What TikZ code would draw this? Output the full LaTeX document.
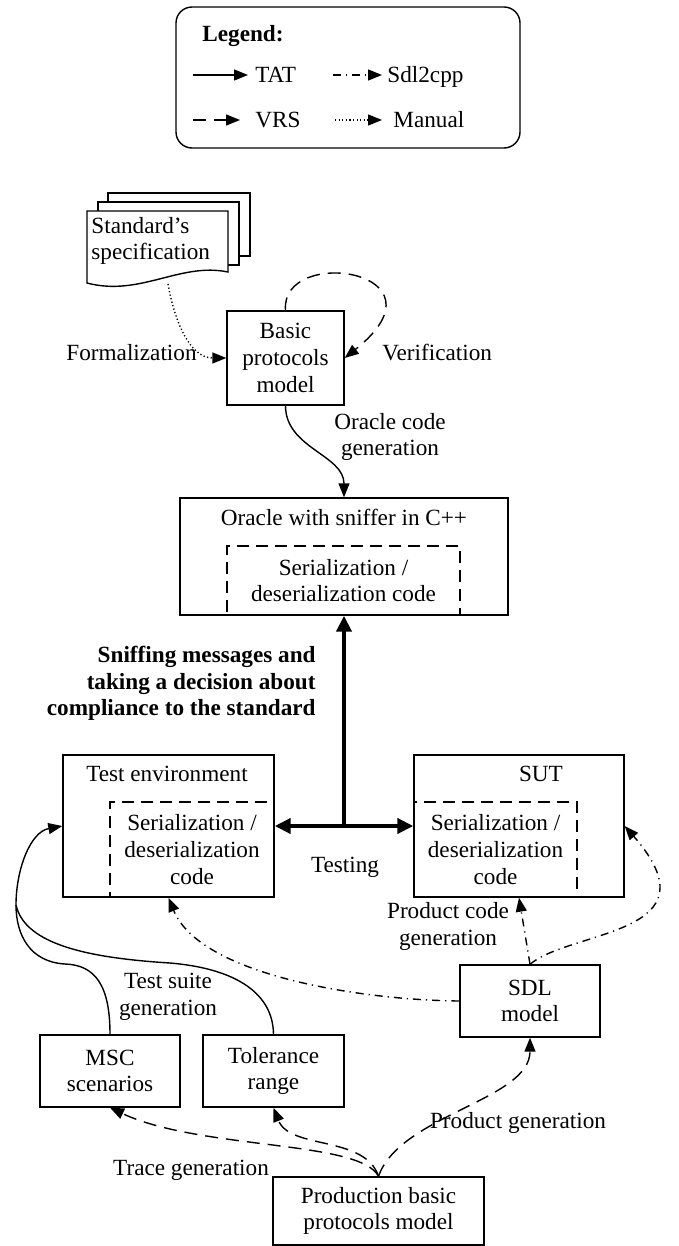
\documentclass[tikz,border=0pt]{standalone}
\usepackage{fontspec}
\setmainfont{Liberation Serif}
\usetikzlibrary{arrows.meta}
\tikzset{
  box/.style={draw, line width=0.7pt, align=center, inner sep=0pt},
  codebox/.style={draw, line width=0.7pt, dash pattern=on 6pt off 3.5pt, align=center, inner sep=0pt},
  tat/.style={line width=0.7pt, -{Triangle[length=7pt,width=5.5pt]}},
  vrs/.style={tat, dash pattern=on 6.5pt off 4pt},
  sdlarrow/.style={tat, dash pattern=on 4pt off 2.5pt on 0.6pt off 2.5pt},
  manual/.style={tat, dash pattern=on 0.6pt off 1.2pt},
  boldarrow/.style={line width=2pt, -{Triangle[length=8pt,width=7.5pt]}}
}

\begin{document}
\fontsize{11.6}{13.35}\selectfont
\begin{tikzpicture}[x=0.5pt, y=-0.5pt]
		%%%%% START %%%%%
		\useasboundingbox (0,0) rectangle (679,1246);
		
		% legend
		\draw[line width=0.7pt, rounded corners=8pt] (176,7) rectangle (520,148);
		\node[anchor=base west, inner sep=0pt, font=\bfseries] (legend) at (202,42) {Legend:};
		\draw[tat] (193,75) -- (248,75);
		\node[anchor=base west, inner sep=0pt] (tat) at (255,83) {TAT};
		\draw[sdlarrow] (333,75) -- (382,75);
		\node[anchor=base west, inner sep=0pt] (sdl2cpp) at (387,83) {Sdl2cpp};
		\draw[vrs] (193,120) -- (240,120);
		\node[anchor=base west, inner sep=0pt] (vrs) at (255,127.5) {VRS};
		\draw[manual] (335,120) -- (382,120);
		\node[anchor=base west, inner sep=0pt] (manual) at (393,127.5) {Manual};
		
		% standard's specification
		\filldraw[fill=white, line width=0.7pt] (108,193) rectangle (250,256);
		\filldraw[fill=white, line width=0.7pt] (98,202) rectangle (239,265);
		\filldraw[fill=white, line width=0.7pt] (87,211) -- (228,211) -- (228,272) .. controls (180,262) and (140,297) .. (87,283) -- cycle;
		\node[anchor=west, align=left, inner sep=0pt] (spec) at (91,241) {Standard’s\\specification};
		\coordinate (specfoot) at (168,284);
		
		\node[box, minimum width=58.5pt, minimum height=47pt] (basic) at (285.5,358) {Basic\\protocols\\model};
		\node[anchor=east, inner sep=0pt] (formal) at (197,353) {Formalization};
		\node[anchor=west, inner sep=0pt] (verif) at (382,353) {Verification};
		\node[align=center, inner sep=0pt] (ocg) at (390,437) {Oracle code\\generation};
		
		% oracle
		\node[box, minimum width=164pt, minimum height=58.5pt] (oracle) at (344,556.5) {};
		\node (oracletitle) at (344,517) {Oracle with sniffer in C++};
		\node[codebox, minimum width=116.5pt, minimum height=34.5pt] (oraclecode) at (343.5,580.5) {Serialization /\\deserialization code};
		
		\node[anchor=east, align=right, inner sep=0pt, font=\bfseries] (sniff) at (316,683.5) {Sniffing messages and\\taking a decision about\\compliance to the standard};
		
		% test environment and SUT
		\node[box, minimum width=105.5pt, minimum height=71pt] (testenv) at (168.5,826) {};
		\node (testtitle) at (167,774) {Test environment};
		\node[codebox, minimum width=82pt, minimum height=47.5pt] (testcode) at (192,849.5) {Serialization /\\deserialization\\code};
		\node[box, minimum width=105pt, minimum height=71pt] (sut) at (519,826) {};
		\node (suttitle) at (541,774) {SUT};
		\node[codebox, minimum width=81.5pt, minimum height=47.5pt] (sutcode) at (495.5,849.5) {Serialization /\\deserialization\\code};
		\node (testing) at (345,867) {Testing};
		
		% models
		\node[box, minimum width=70pt, minimum height=36pt] (sdlm) at (530,1001) {SDL\\model};
		\node[box, minimum width=70pt, minimum height=36pt] (msc) at (110,1071) {MSC\\scenarios};
		\node[box, minimum width=70.5pt, minimum height=36pt] (tol) at (273.5,1071) {Tolerance\\range};
		\node[box, minimum width=105.5pt, minimum height=34pt] (prod) at (378.5,1211) {Production basic\\protocols model};
		\node[align=center] (pcg) at (448,926.5) {Product code\\generation};
		\node[align=center] (tsg) at (168,996.5) {Test suite\\generation};
		\node (tracegen) at (191,1170) {Trace generation};
		\node (prodgen) at (518,1123) {Product generation};
		
		% arrows
		\draw[manual] (specfoot) to[out=-80,in=180] (basic.west);
		\draw[vrs] (basic.north) .. controls (280,245) and (455,270) .. (basic.east);
		\draw[tat] (basic.south) to[out=-90,in=90] (oracle.north);
		
		\coordinate (hub) at (344,826);
		\draw[boldarrow] (hub) -- (oracle.south);
		\draw[boldarrow] (hub) -- (testenv.east);
		\draw[boldarrow] (hub) -- (sut.west);
		
		\draw[sdlarrow] (sdlm.north) -- (sut.south);
		\draw[sdlarrow] (sdlm.north) .. controls (570,930) and (720,935) .. (sut.east);
		\draw[sdlarrow] (sdlm.west) .. controls (360,1000) and (200,975) .. (testenv.south);
		
		\coordinate (join) at (16,905);
		\draw[line width=0.7pt] (tol.north) .. controls (273,990) and (230,968) .. (170,963) .. controls (90,958) and (25,945) .. (join);
		\draw[tat] (msc.north) .. controls (110,985) and (95,965) .. (65,964) .. controls (30,962) and (16,935) .. (join) .. controls (16,870) and (30,832) .. (testenv.west);
		
		\draw[vrs] (prod.north) .. controls (360,1140) and (200,1150) .. (msc.south);
		\draw[vrs] (prod.north) .. controls (365,1135) and (290,1150) .. (tol.south);
		\draw[vrs] (prod.north) .. controls (400,1115) and (530,1100) .. (sdlm.south);
		%%%%% END %%%%%
\end{tikzpicture}
\end{document}
